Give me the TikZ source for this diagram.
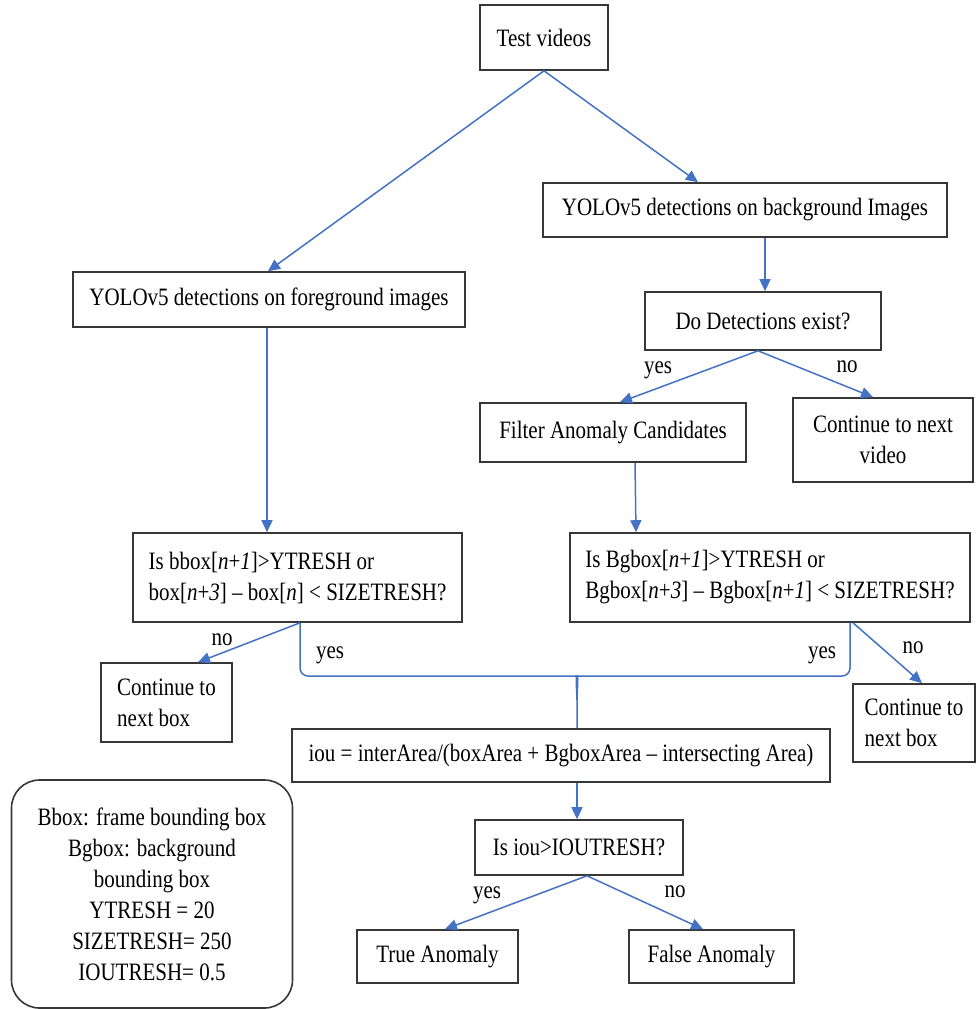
\documentclass[tikz,border=0pt]{standalone}
\usepackage{fontspec}
\setmainfont{Liberation Serif}[FakeStretch=0.84]
\usetikzlibrary{arrows.meta}
\definecolor{flowblue}{RGB}{68,114,196}
\definecolor{boxgray}{RGB}{55,55,55}
\tikzset{
  box/.style={draw=boxgray, line width=1.6pt, inner sep=0pt, align=center},
  flow/.style={draw=flowblue, line width=1.5pt, -{Triangle[length=12pt,width=11pt]}},
  link/.style={draw=flowblue, line width=1.5pt},
}
\begin{document}
\begin{tikzpicture}[x=1pt, y=-1pt, font=\fontsize{25}{31}\selectfont]
	\useasboundingbox (0,0) rectangle (975,1009);
	% boxes
	\node[box, minimum width=128pt, minimum height=65pt] (test) at (544,37.5) {Test videos};
	\node[box, minimum width=404pt, minimum height=54pt] (bg) at (745,210) {YOLOv5 detections on background Images};
	\node[box, minimum width=392pt, minimum height=55pt] (fg) at (269,299.5) {YOLOv5 detections on foreground images};
	\node[box, minimum width=236pt, minimum height=58pt] (exist) at (763,321) {Do Detections exist?};
	\node[box, minimum width=266pt, minimum height=59pt] (filter) at (613,432.5) {Filter Anomaly Candidates};
	\node[box, minimum width=180pt, minimum height=84pt] (nextvid) at (883,440) {Continue to next\\video};
	\node[box, minimum width=329pt, minimum height=89pt, align=left] (ybox) at (297.5,577.5) {Is bbox[\textit{n}+\textit{1}]>YTRESH or\\box[\textit{n}+\textit{3}] -- box[\textit{n}] < SIZETRESH?};
	\node[box, minimum width=400pt, minimum height=89pt, align=left] (bgbox) at (770,577.5) {Is Bgbox[\textit{n}+\textit{1}]>YTRESH or\\Bgbox[\textit{n}+\textit{3}] -- Bgbox[\textit{n}+\textit{1}] < SIZETRESH?};
	\node[box, minimum width=131pt, minimum height=79pt, align=left] (nextboxL) at (166.5,702.5) {Continue to\\next box};
	\node[box, minimum width=122pt, minimum height=78pt, align=left] (nextboxR) at (914,723) {Continue to\\next box};
	\node[box, minimum width=538pt, minimum height=53pt] (iou) at (561,755.5) {iou = interArea/(boxArea + BgboxArea -- intersecting Area)};
	\node[box, minimum width=208pt, minimum height=55pt] (isiou) at (579,847.5) {Is iou>IOUTRESH?};
	\node[box, minimum width=161pt, minimum height=53pt] (true) at (437.5,956.5) {True Anomaly};
	\node[box, minimum width=165pt, minimum height=53pt] (false) at (711.5,956.5) {False Anomaly};
	\node[box, rounded corners=28pt, minimum width=281pt, minimum height=228pt] (legend) at (152,894) {Bbox: frame bounding box\\Bgbox: background\\bounding box\\YTRESH = 20\\SIZETRESH= 250\\IOUTRESH= 0.5};
	% labels
	\node (yesA) at (658,370) {yes};
	\node (noA) at (847,367) {no};
	\node (noB) at (222,640) {no};
	\node (noC) at (913,648) {no};
	\node (yesB) at (330,655) {yes};
	\node (yesC) at (822,655) {yes};
	\node (yesD) at (487,895) {yes};
	\node (noD) at (675,892) {no};
	% arrows
	\draw[flow] (test.south) -- ([xshift=-1pt]fg.north);
	\draw[flow] (test.south) -- ([xshift=-47pt]bg.north);
	\draw[flow] ([xshift=20pt]bg.south) -- ([xshift=2pt]exist.north);
	\draw[flow] ([xshift=-2pt]fg.south) -- ([xshift=-30.5pt]ybox.north);
	\draw[flow] ([xshift=-5pt]exist.south) -- ([xshift=7pt]filter.north);
	\draw[flow] ([xshift=-5pt]exist.south) -- ([xshift=-10pt]nextvid.north);
	\draw[flow] ([xshift=22pt]filter.south) -- ([xshift=-134pt]bgbox.north);
	\draw[flow] ([xshift=2.5pt]ybox.south) -- ([xshift=31.5pt]nextboxL.north);
	\draw[flow] ([xshift=83pt]bgbox.south) -- ([xshift=8pt]nextboxR.north);
	% brace into iou
	\coordinate (braceL) at (300,676);
	\coordinate (braceR) at (850,676);
	\coordinate (braceM) at (577,700);
	\draw[link, rounded corners=8pt] ([xshift=2.5pt]ybox.south) |- ([xshift=-8pt]braceL -| braceM) [sharp corners] .. controls ([xshift=-1pt]braceL -| braceM) .. (braceM) -- ([xshift=16pt]iou.north);
	\draw[link, rounded corners=8pt] ([xshift=80pt]bgbox.south) |- ([xshift=8pt]braceR -| braceM) [sharp corners] .. controls ([xshift=1pt]braceR -| braceM) .. (braceM);
	\draw[flow] ([xshift=16pt]iou.south) -- ([xshift=-2pt]isiou.north);
	\draw[flow] ([xshift=8pt]isiou.south) -- ([xshift=7.5pt]true.north);
	\draw[flow] ([xshift=8pt]isiou.south) -- ([xshift=-8.5pt]false.north);
\end{tikzpicture}
\end{document}
